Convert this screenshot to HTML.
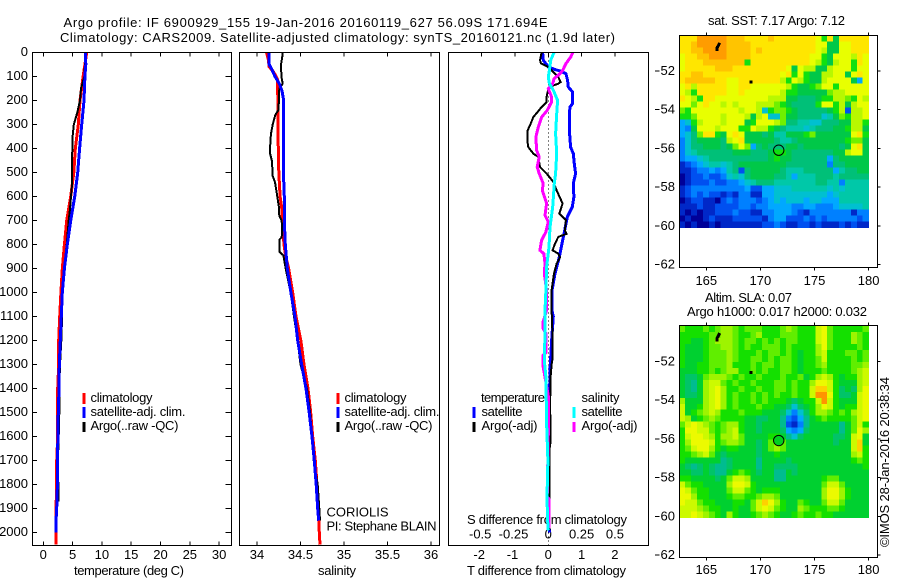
<!DOCTYPE html>
<html lang="en">
<head>
<meta charset="utf-8">
<title>Argo profile 6900929_155</title>
<style>
html,body{margin:0;padding:0;background:#fff;}
svg{display:block;}
text{font-family:"Liberation Sans",sans-serif;font-size:13px;fill:#000;}
</style>
</head>
<body>
<svg id="fig" width="900" height="580" viewBox="0 0 900 580" xmlns="http://www.w3.org/2000/svg">
<rect x="0" y="0" width="900" height="580" fill="#fff"/>
<text x="63.5" y="27" textLength="484" lengthAdjust="spacing">Argo profile: IF 6900929_155 19-Jan-2016 20160119_627 56.09S 171.694E</text>
<text x="60" y="42" textLength="555" lengthAdjust="spacing">Climatology: CARS2009. Satellite-adjusted climatology: synTS_20160121.nc (1.9d later)</text>
<text x="74" y="575" textLength="110" lengthAdjust="spacing">temperature (deg C)</text>
<text x="318" y="575" textLength="38" lengthAdjust="spacing">salinity</text>
<text x="467" y="575" textLength="159" lengthAdjust="spacing">T difference from climatology</text>
<text x="467" y="524" textLength="160" lengthAdjust="spacing">S difference from climatology</text>
<text x="326.5" y="516.5" textLength="62" lengthAdjust="spacing">CORIOLIS</text>
<text x="326.5" y="530.5" textLength="110" lengthAdjust="spacing">PI: Stephane BLAIN</text>
<text x="708" y="25" textLength="137" lengthAdjust="spacing">sat. SST: 7.17 Argo: 7.12</text>
<text x="705" y="302" textLength="87" lengthAdjust="spacing">Altim. SLA: 0.07</text>
<text x="687" y="316" textLength="180" lengthAdjust="spacing">Argo h1000: 0.017 h2000: 0.032</text>
<text transform="translate(889,547) rotate(-90)" textLength="170" lengthAdjust="spacing">©IMOS 28-Jan-2016 20:38:34</text>

<g>
<rect x="82.5" y="393" width="3" height="11" fill="#f00"/>
<text x="90.5" y="402" textLength="62" lengthAdjust="spacing">climatology</text>
<rect x="82.5" y="407" width="3" height="11" fill="#00f"/>
<text x="90.5" y="416" textLength="95" lengthAdjust="spacing">satellite-adj. clim.</text>
<rect x="82.5" y="422" width="3" height="10" fill="#000"/>
<text x="90.5" y="430" textLength="88" lengthAdjust="spacing">Argo(..raw -QC)</text>
</g>
<g>
<rect x="336.5" y="393" width="3" height="11" fill="#f00"/>
<text x="344.5" y="402" textLength="62" lengthAdjust="spacing">climatology</text>
<rect x="336.5" y="407" width="3" height="11" fill="#00f"/>
<text x="344.5" y="416" textLength="95" lengthAdjust="spacing">satellite-adj. clim.</text>
<rect x="336.5" y="422" width="3" height="10" fill="#000"/>
<text x="344.5" y="430" textLength="88" lengthAdjust="spacing">Argo(..raw -QC)</text>
</g>

<g id="plots"></g>

<g>
<text x="481" y="402" textLength="64" lengthAdjust="spacing">temperature</text>
<rect x="472.5" y="407" width="3" height="11" fill="#00f"/>
<text x="481.5" y="416" textLength="41" lengthAdjust="spacing">satellite</text>
<rect x="472.5" y="422" width="3" height="10" fill="#000"/>
<text x="481.5" y="430" textLength="56" lengthAdjust="spacing">Argo(-adj)</text>
<text x="581.5" y="402" textLength="38" lengthAdjust="spacing">salinity</text>
<rect x="572.5" y="407" width="3" height="11" fill="#0ff"/>
<text x="581.5" y="416" textLength="41" lengthAdjust="spacing">satellite</text>
<rect x="572.5" y="422" width="3" height="10" fill="#f0f"/>
<text x="581.5" y="430" textLength="56" lengthAdjust="spacing">Argo(-adj)</text>
</g>
</svg>

<script>
// ---- temperature panel data (depth in m, temperature in deg C)
const climTDepth = [0,100,200,300,400,500,600,700,800,900,1000,1100,1200,1300,1400,1500,1600,1700,1800,1900,2000,2050];
const climT = [7.4,6.8,6.26,5.97,5.46,5.2,4.67,4.0,3.6,3.25,3.0,2.8,2.63,2.63,2.45,2.45,2.45,2.28,2.28,2.17,2.17,2.17];
const satTDepth = [0,50,100,200,300,400,500,600,700,800,900,1000,1100,1200,1300,1400,1500,1600,1700,1800,1900,1950,2000];
const satT = [7.2,7.25,7.1,6.95,6.55,6.2,5.87,5.35,4.67,4.1,3.6,3.25,3.07,2.9,2.73,2.68,2.56,2.5,2.4,2.4,2.28,2.17,2.17];
const argoTDepth = [0,100,150,200,250,300,350,400,500,550,600,650,700,800,900,1000,1100,1200,1300,1400,1500,1600,1700,1800,1870];
const argoT = [7.2,7.0,6.43,6.26,5.8,5.2,5.0,4.95,4.9,4.9,4.73,4.55,4.33,4.0,3.53,3.25,3.2,3.07,2.85,2.73,2.73,2.63,2.5,2.56,2.56];

// ---- salinity panel data
const climSDepth = [0,30,60,80,110,200,300,400,500,600,650,700,800,850,900,1000,1100,1200,1300,1400,1500,1600,1700,1800,1900,2000,2050];
const climS = [34.11,34.13,34.14,34.19,34.233,34.24,34.24,34.245,34.25,34.265,34.285,34.29,34.31,34.33,34.364,34.41,34.448,34.505,34.54,34.586,34.617,34.64,34.67,34.69,34.705,34.716,34.724];
const satSDepth = [0,50,70,100,130,160,200,300,400,500,600,700,800,900,1000,1100,1200,1300,1400,1500,1600,1700,1800,1900,1950];
const satS = [34.14,34.14,34.17,34.207,34.256,34.287,34.307,34.303,34.303,34.303,34.314,34.314,34.325,34.348,34.39,34.437,34.468,34.514,34.563,34.6,34.632,34.659,34.68,34.698,34.709];
const argoSDepth = [0,20,50,100,130,150,200,240,260,300,340,400,420,450,480,510,540,600,640,680,700,740,770,780,830,845,900,1000,1100,1200,1300,1400,1500,1600,1700,1800,1900,1950];
const argoS = [34.295,34.29,34.276,34.28,34.295,34.256,34.253,34.245,34.21,34.18,34.16,34.15,34.15,34.17,34.176,34.176,34.207,34.233,34.25,34.256,34.284,34.287,34.284,34.256,34.256,34.303,34.33,34.387,34.425,34.468,34.5,34.575,34.61,34.632,34.652,34.698,34.716,34.724];

// ---- difference panel data
const diffTSatDepth = [0,32,60,71,77,88,116,144,164,213,227,269,338,394,421,463,504,546,602,643,685,755,796,852,921,991,1074,1100,1200,1300,1400,1500,1700,1900,2000];
const diffTSat = [-0.17,-0.15,0,0.2,0.35,0.53,0.58,0.6,0.73,0.73,0.65,0.63,0.64,0.67,0.75,0.78,0.82,0.75,0.77,0.72,0.57,0.47,0.41,0.33,0.2,0.11,0.11,0.15,0.1,0.06,0.04,0.03,0.02,0.02,0.03];
const diffTArgoDepth = [0,32,46,60,88,102,123,130,137,151,185,206,227,248,269,296,324,366,394,421,435,477,504,539,574,629,671,699,741,755,768,796,824,838,852,880,921,991,1074,1185,1282,1300,1351,1490,1532,1629,1650,1990];
const diffTArgo = [-0.2,-0.25,-0.22,0,0.2,0.3,0.37,0.3,0.15,0,-0.05,-0.05,-0.2,-0.32,-0.45,-0.53,-0.62,-0.63,-0.6,-0.45,-0.3,-0.25,-0.05,0.15,0.25,0.43,0.33,0.53,0.5,0.55,0.3,0.2,0.13,0.3,0.35,0.25,0.17,0.1,0.1,0.13,0.12,0.1,0.07,0.05,0.07,0.06,0.04,0.03];
const diffSSatDepth = [0,32,74,102,130,158,199,255,338,421,504,546,643,727,810,893,991,1073,1171,1282,1351,1546,1699,1851,1948,1990];
const diffSSat = [0.043,0.018,0.008,0,0.008,0.038,0.07,0.063,0.055,0.063,0.055,0.045,0.033,0.013,0.005,-0.013,-0.018,-0.025,-0.025,-0.03,-0.018,-0.013,-0.003,-0.01,-0.005,0];
const diffSArgoDepth = [0,18,46,74,88,109,130,151,185,206,241,269,310,352,407,435,477,504,546,574,629,678,706,747,782,824,838,880,921,991,1074,1120,1150,1170,1250,1260,1310,1440,1490,1851,1860,1980];
const diffSArgo = [0.183,0.17,0.133,0.108,0.088,0.043,0.033,0,0.025,0.025,-0.008,-0.05,-0.075,-0.093,-0.088,-0.068,-0.083,-0.068,-0.038,-0.045,-0.013,-0.025,0,-0.018,-0.05,-0.063,-0.033,-0.025,-0.03,-0.013,-0.013,-0.038,-0.038,-0.018,-0.018,-0.038,-0.038,0.003,0.003,-0.008,0.005,0.005];

// ---- tick labels
const depthTicks = [0,100,200,300,400,500,600,700,800,900,1000,1100,1200,1300,1400,1500,1600,1700,1800,1900,2000];
const tempTicks = [0,5,10,15,20,25,30];
const salTicks = [34,34.5,35,35.5,36];
const diffTTicks = [-2,-1,0,1,2];
const diffSTicks = [-0.5,-0.25,0,0.25,0.5];
const lonTicks = [165,170,175,180];
const latTicks = [52,54,56,58,60,62];

// ---- map data: each character is a colour-scale level (hex digit), one string per grid row
const mapLonStart = 162.5;
const mapLonEnd = 180;
const mapLatStart = 50.17;
const mapLatEnd = 60.07;
const sstPalette = ["#000098","#0028c8","#0050f0","#0080ff","#00a8ff","#00c0d0","#00c8a8","#00c078","#00c848","#10e010","#70f000","#b8f800","#e8ff00","#ffe600","#ffc400","#ff9c00"];
const slaPalette = ["#000098","#0028c8","#0050f0","#0080ff","#00a8ff","#00c0d0","#00bc90","#00c468","#00d030","#14e000","#60ee00","#9ef400","#ccfa00","#ecfa00","#ffd000","#ff9400"];
const sstGrid = [
"dddfffffeeeddddedddddddc9d8ddddd",
"ddefffffeeeedddddddddddcc88ccddd",
"ddeeffffeeeededddddddddcb88ccddd",
"cddeefffeeeeddddddddddcc98cccbdc",
"cdddeeeeeee9ddddddddddcb98bcc9dc",
"cdddddeeedddddddddc8cbb88bccc9cc",
"ddeedddddddddddddcd9c988bbcc8cdc",
"deeeeeddccdddddddb9cb988bcccc84c",
"cdbdddddccddccccccb9889acc9ccccc",
"cb9dddddccdccccccb9988888abbcccc",
"dcb9ddcccccccccbbb88777899bba9cb",
"ccacdccbcbcccbbba9877779cc9b8bcc",
"a9ccccccccbccb59aa987777789b2bbc",
"99accccbcccb8bc55a887777568a9bbc",
"459bcccbccc89cccba77665577788bb9",
"438cccbccc99cbb98766656777889bb8",
"457add98cdc88878668889a888888cd9",
"35788887bcd888887667888888889aa8",
"357788878aca47877788788888878cd8",
"3567777778887778998777777788bcc8",
"34456777777777789887777774788888",
"12345665678888888877777773778888",
"11233434672788888766677777467788",
"01223223565788887764666777677777",
"01222322334567776666666776636666",
"12333333333422445556666665656666",
"12323221213311445555555554566666",
"01221102323332345455545544466666",
"11121122223323344443344333455556",
"10101122232211334443213333333133",
"01001211122222134422232323333323",
"10100101111111223211221211121211"
];
const slaGrid = [
"a999a9abba9aaa999aba999cda99999a",
"99999aabba99ab999aaa999cda999ba9",
"99889abbba9aa9a9a9aa999cda999ba9",
"98889aabba9a99aaa9a9999bda9999a9",
"98889aaaba999a9aa9a9899bc999aa9a",
"98889aaaba99aa9a9aa9899ac9999a9a",
"98899aaab999a9aa9aa9899ab9999aab",
"88899a9abb99a9a99aa98999a9999abc",
"8778abbba9a99a999a99a89bcb9899bc",
"8768bcca9a99a999aa9a99bddc9888bc",
"8768bcdb99a99a99aa9a99ceec9787bd",
"8778bcdb9a99a9a9a99a99cffd9778cd",
"b888bcdb9a99a9a99987899cfc9888cd",
"c889bcdb9a999a998875789bdc9899cd",
"c89abcb999a999888753579bba9a9bcd",
"cb89aba99998877886324689a9999acd",
"acdcba9abb9887888621368888868ac9",
"9ddcca9abc9887888743478888868adb",
"9cddcb9bbca888899865788888778cd8",
"9bdddc9abba8878aba88888888788ce8",
"9acddb989988878aba88888888888ce9",
"99abca87888887889888888888888bc9",
"988888867888868888788888888889a9",
"87678766788886887777888888888889",
"8877876689a987886687888888888888",
"99888878accb888866888888 9aa88888".replace(" ",""),
"ca998888bddc98888888888 8acca8888".replace(" ",""),
"dca99888acca98999888888 8bddb9888".replace(" ",""),
"ddb998889aa99abba8888888bddb9888",
"dcca99888998acedb988a988acca8888",
"cccba9988988acdca988ba999aa98888",
"ccdcba98b9889aba9889a99a99888888"
];
// coastlines and profile location (lon, lat)
const island1Lon = [166.24,166.1,165.99,165.99];
const island1Lat = [50.55,50.7,50.81,50.97];
const island2Lon = [169.0,169.25];
const island2Lat = [52.57,52.57];
const argoLon = 171.694;
const argoLat = 56.09;

// ---- axis functions
const yDepth = d => 52.5 + 0.2401 * d;
const xTemp = t => 43.3 + 5.86 * t;
const xSal = s => 257 + 87 * (s - 34);
const xDiffT = v => 548.3 + 33.3 * v;
const xDiffS = v => 548.3 + 133.2 * v;
const xLon = l => 706.3 + (l - 165) * 10.82;
const yLatSst = l => 71 + (l - 52) * 19.37;
const yLatSla = l => 361.3 + (l - 52) * 19.37;

const svgNS = "http://www.w3.org/2000/svg";
const root = document.getElementById("plots");
function make(tag, attrs, parent) {
  const el = document.createElementNS(svgNS, tag);
  for (const k in attrs) el.setAttribute(k, attrs[k]);
  (parent || root).appendChild(el);
  return el;
}
function tick(x1, y1, x2, y2, name) {
  const el = make("line", {x1: x1, y1: y1, x2: x2, y2: y2, stroke: "#000", "stroke-width": 1, "shape-rendering": "crispEdges"});
  
  
}
function label(x, y, str, anchor, name) {
  const el = make("text", {x: x, y: y, "text-anchor": anchor});
  el.textContent = str;
  
  
}
function frame(x, y, w, h, name) {
  const el = make("rect", {x: x, y: y, width: w, height: h, fill: "none", stroke: "#000", "stroke-width": 1, "shape-rendering": "crispEdges"});
  
  
}
function series(depths, values, xFn, color, width, name) {
  const pts = depths.map((d, i) => xFn(values[i]).toFixed(1) + "," + yDepth(d).toFixed(1)).join(" ");
  const el = make("polyline", {points: pts, fill: "none", stroke: color, "stroke-width": width, "stroke-linejoin": "miter", "shape-rendering": "crispEdges"});
  
  
}
function heatmap(grid, palette, yLat, name) {
  const g = make("g", {"shape-rendering": "crispEdges"});
  
  
  const rows = grid.length;
  grid.forEach((row, r) => {
    const cols = row.length;
    for (let c = 0; c < cols; c++) {
      const lon0 = mapLonStart + (mapLonEnd - mapLonStart) * c / cols;
      const lon1 = mapLonStart + (mapLonEnd - mapLonStart) * (c + 1) / cols;
      const lat0 = mapLatStart + (mapLatEnd - mapLatStart) * r / rows;
      const lat1 = mapLatStart + (mapLatEnd - mapLatStart) * (r + 1) / rows;
      const cell = make("rect", {x: xLon(lon0), y: yLat(lat0), width: xLon(lon1) - xLon(lon0) + 0.5, height: yLat(lat1) - yLat(lat0) + 0.5, fill: palette[parseInt(row[c], 16)]}, g);
      
      
    }
  });
}
function coast(lons, lats, yLat, name) {
  const pts = lons.map((l, i) => xLon(l).toFixed(1) + "," + yLat(lats[i]).toFixed(1)).join(" ");
  const el = make("polyline", {points: pts, fill: "none", stroke: "#000", "stroke-width": 3, "shape-rendering": "crispEdges"});
  
  
}
function argoMarker(yLat, fill, name) {
  const el = make("circle", {cx: xLon(argoLon), cy: yLat(argoLat), r: 5.2, fill: fill, stroke: "#000", "stroke-width": 1});
  
  
}

const top_ = 52.5, bottom = 545.5, H = bottom - top_;

// depth axis labels + panel 1 side ticks
depthTicks.forEach(d => {
  label(28, yDepth(d) + 3.5, String(d), "end", "depth-tick-label");
  tick(32.5, yDepth(d), 37, yDepth(d), "depth-tick-left");
  tick(225.5, yDepth(d), 231.5, yDepth(d), "depth-tick-right");
});

// temperature panel
tempTicks.forEach(t => {
  tick(xTemp(t), top_, xTemp(t), top_ + 4, "temperature-top-tick");
  tick(xTemp(t), bottom, xTemp(t), bottom - 4, "temperature-bottom-tick");
  label(xTemp(t), 559, String(t), "middle", "temperature-tick-label");
});
series(climTDepth, climT, xTemp, "#f00", 3, "temperature-climatology-line");
series(argoTDepth, argoT, xTemp, "#000", 2, "temperature-argo-line");
series(satTDepth, satT, xTemp, "#00f", 3, "temperature-satellite-line");
frame(32.5, top_, 199, H, "temperature-plot-frame");

// salinity panel
salTicks.forEach(s => {
  tick(xSal(s), top_, xSal(s), top_ + 4, "salinity-top-tick");
  tick(xSal(s), bottom, xSal(s), bottom - 4, "salinity-bottom-tick");
  label(xSal(s), 559, String(s), "middle", "salinity-tick-label");
});
series(climSDepth, climS, xSal, "#f00", 3, "salinity-climatology-line");
series(argoSDepth, argoS, xSal, "#000", 2, "salinity-argo-line");
series(satSDepth, satS, xSal, "#00f", 3, "salinity-satellite-line");
frame(239.5, top_, 200, H, "salinity-plot-frame");

// difference panel
diffTTicks.forEach(v => {
  label(xDiffT(v) - (v < 0 ? 2.5 : 0), 559, String(v), "middle", "t-difference-tick-label");
});
diffSTicks.forEach(v => {
  tick(xDiffS(v), top_, xDiffS(v), top_ + 4, "s-difference-top-tick");
  label(xDiffS(v) - (v < 0 ? 1.5 : 0), 538.5, String(v), "middle", "s-difference-tick-label");
});
const zero = make("line", {x1: xDiffT(0), y1: top_, x2: xDiffT(0), y2: bottom, stroke: "#000", "stroke-width": 1, "stroke-dasharray": "1 3", "shape-rendering": "crispEdges"});


series(diffTSatDepth, diffTSat, xDiffT, "#00f", 3, "t-difference-satellite-line");
series(diffTArgoDepth, diffTArgo, xDiffT, "#000", 2, "t-difference-argo-line");
series(diffSArgoDepth, diffSArgo, xDiffS, "#f0f", 3, "s-difference-argo-line");
series(diffSSatDepth, diffSSat, xDiffS, "#0ff", 3, "s-difference-satellite-line");
frame(448.5, top_, 200, H, "difference-plot-frame");

// maps
function drawMap(grid, palette, yLat, fTop, fBottom, xLabelY, prefix, markerFill) {
  heatmap(grid, palette, yLat, prefix + "-heatmap");
  coast(island1Lon, island1Lat, yLat, prefix + "-island-north");
  coast(island2Lon, island2Lat, yLat, prefix + "-island-south");
  argoMarker(yLat, markerFill, prefix + "-argo-location");
  frame(679.5, fTop, 198, fBottom - fTop, prefix + "-map-frame");
  lonTicks.forEach(l => {
    tick(xLon(l), fTop, xLon(l), fTop - 3, prefix + "-lon-top-tick");
    tick(xLon(l), fBottom, xLon(l), fBottom + 3, prefix + "-lon-bottom-tick");
    label(xLon(l), xLabelY, String(l), "middle", prefix + "-lon-label");
  });
  latTicks.forEach(l => {
    tick(877.5, yLat(l), 880.5, yLat(l), prefix + "-lat-right-tick");
    tick(655, yLat(l), 659.5, yLat(l), prefix + "-lat-left-tick");
    label(675, yLat(l) + 4, String(l), "end", prefix + "-lat-label");
  });
}
drawMap(sstGrid, sstPalette, yLatSst, 35.5, 267.5, 285, "sst", "none");
drawMap(slaGrid, slaPalette, yLatSla, 325.5, 557.5, 574, "sla", "#00d020");
</script>
</body>
</html>
